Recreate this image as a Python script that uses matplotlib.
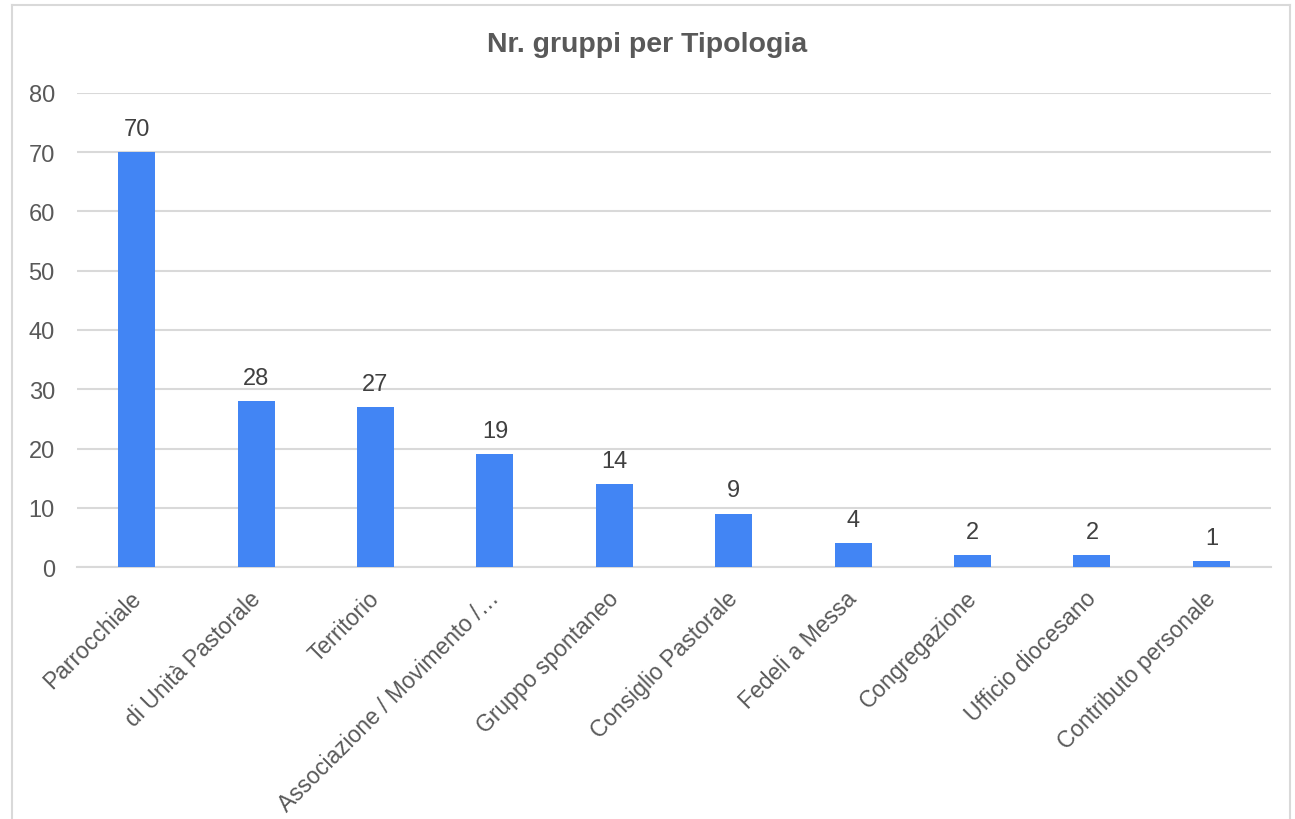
import matplotlib.pyplot as plt
from matplotlib.lines import Line2D

plt.rcParams['font.family'] = ['Liberation Sans', 'DejaVu Sans']

# dati del grafico
tipologie = ['Parrocchiale', 'di Unità Pastorale', 'Territorio',
             'Associazione / Movimento /…', 'Gruppo spontaneo',
             'Consiglio Pastorale', 'Fedeli a Messa', 'Congregazione',
             'Ufficio diocesano', 'Contributo personale']
n_gruppi = [70, 28, 27, 19, 14, 9, 4, 2, 2, 1]
y_ticks = [0, 10, 20, 30, 40, 50, 60, 70, 80]

blu = '#4285F4'
grigio = '#595959'
griglia = '#D9D9D9'

fig = plt.figure(figsize=(12.95, 8.2), dpi=100)
ax = fig.add_axes([0.0595, 0.3073, 0.922, 0.5781])

x = range(len(tipologie))
bars = ax.bar(x, n_gruppi, width=0.31, color=blu, zorder=3)

# etichette valori
for b, v in zip(bars, n_gruppi):
    ax.annotate(str(v), (b.get_x() + b.get_width() / 2, v),
                xytext=(0, 9), textcoords='offset points',
                ha='center', va='bottom', fontsize=17, color='#404040')

ax.set_xlim(-0.5, len(tipologie) - 0.5)
ax.set_ylim(0, 80)
ax.set_yticks(y_ticks)
ax.set_xticks(list(x))
ax.set_xticklabels([])
# etichette categorie ruotate
for i, t in zip(x, tipologie):
    ax.annotate(t, (i, 0), xycoords=ax.get_xaxis_transform(),
                xytext=(-5.5, -14), textcoords='offset points',
                rotation=45, ha='right', va='top', rotation_mode='anchor',
                fontsize=16.5, color=grigio, annotation_clip=False)
ax.tick_params(axis='y', labelsize=17, labelcolor=grigio, length=0, pad=16)
ax.tick_params(axis='x', length=0)
ax.grid(axis='y', color=griglia, linewidth=1.5, zorder=0)
for s in ['top', 'right', 'left']:
    ax.spines[s].set_visible(False)
ax.spines['bottom'].set_color(griglia)
ax.spines['bottom'].set_linewidth(1.5)

fig.text(0.5, 1 - 45 / 820, 'Nr. gruppi per Tipologia', ha='center',
         va='center', fontsize=20.5, fontweight='bold', color=grigio)

# bordo del grafico
x0, x1, y1 = 12 / 1295, 1290 / 1295, 1 - 6 / 820
for xs, ys in [([x0, x0], [0, y1]), ([x0, x1], [y1, y1]), ([x1, x1], [y1, 0])]:
    fig.add_artist(Line2D(xs, ys, color=griglia, linewidth=1.5,
                          transform=fig.transFigure))

fig.savefig('out.png', dpi=100)
